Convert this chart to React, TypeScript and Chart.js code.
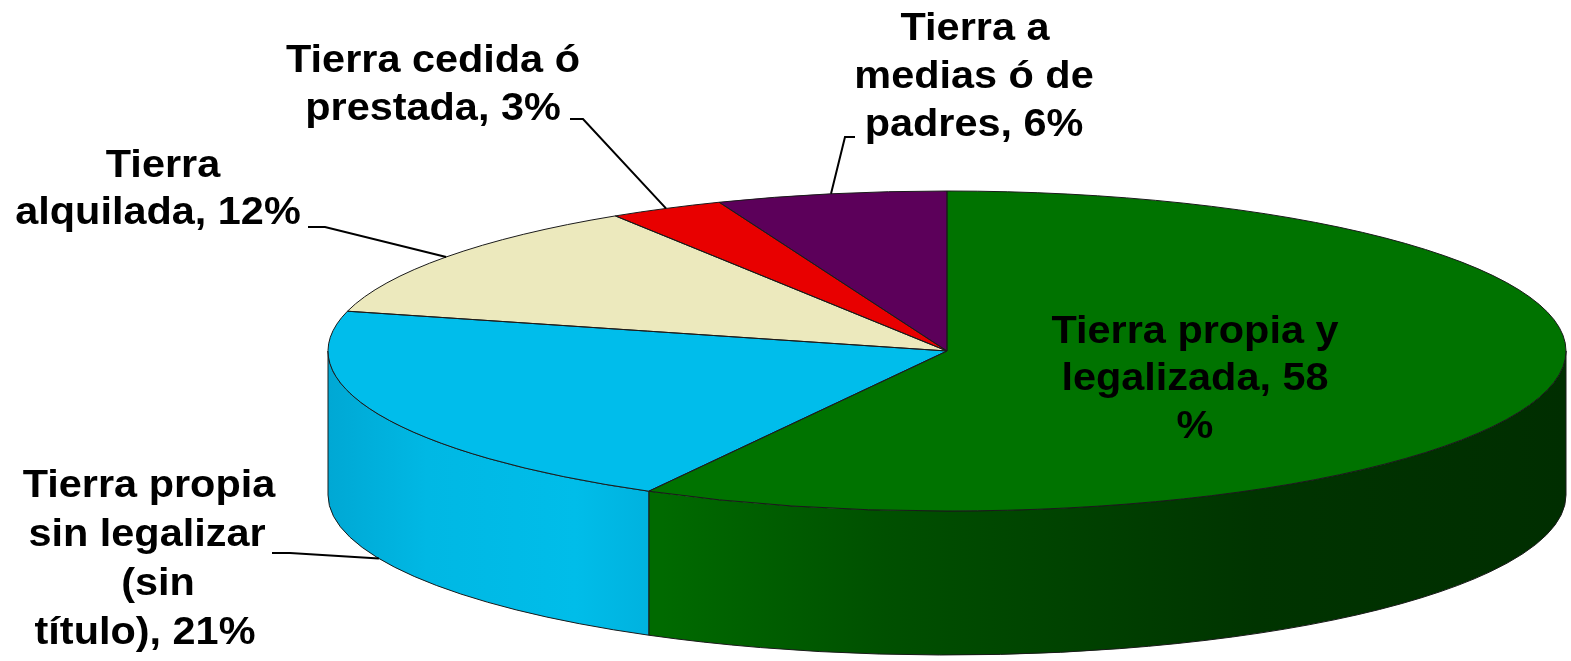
import React, { useEffect, useRef } from "react";
import { Chart, registerables } from "chart.js";

Chart.register(...registerables);

// ---- data ----
const categories = [
  "Tierra propia y legalizada",
  "Tierra propia sin legalizar (sin título)",
  "Tierra alquilada",
  "Tierra cedida ó prestada",
  "Tierra a medias ó de padres",
];
const values = [58, 21, 12, 3, 6];
const labelLines = [
  ["Tierra propia y", "legalizada, 58", "%"],
  ["Tierra propia", "sin legalizar", "(sin", "título), 21%"],
  ["Tierra", "alquilada, 12%"],
  ["Tierra cedida ó", "prestada, 3%"],
  ["Tierra a", "medias ó de", "padres, 6%"],
];

// ---- styles / layout ----
const topColors = ["#007300", "#00bdeb", "#ece9bd", "#e80000", "#5c005a"];
const sideStops: [number, string][][] = [
  [[0.27, "#006a00"], [0.45, "#005000"], [0.75, "#003400"], [1, "#002e00"]],
  [[0, "#00a8d4"], [0.08, "#00b8e4"], [0.2, "#00bde9"], [0.27, "#00b0dd"]],
  [[0, "#c8c59e"], [1, "#c8c59e"]],
  [[0, "#b00000"], [1, "#b00000"]],
  [[0, "#400040"], [1, "#400040"]],
];
const CX = 947, CY = 351, RX = 619, RY = 160, DEPTH = 144;
// label line anchors [x, baseline]
const labelPos: [number, number][][] = [
  [[1195, 343], [1195, 390], [1195, 438]],
  [[149, 497], [147, 546], [158, 595], [145, 644]],
  [[163, 177], [158, 224]],
  [[433, 72], [433, 120]],
  [[975, 40], [974, 88], [974, 136]],
];
// leader start (text end) [x,y] and elbow x; null = no leader
const leaders: ([number, number, number] | null)[] = [
  null,
  [272, 553, 290],
  [308, 227, 325],
  [570, 119, 583],
  [855, 137, 845],
];
const leaderOnSide = [false, true, false, false, false];

function visibleSegs(s: number, e: number): [number, number][] {
  const out: [number, number][] = [];
  for (const k of [-2, 0, 2]) {
    const lo = k * Math.PI, hi = k * Math.PI + Math.PI;
    const a = Math.max(s, lo), b = Math.min(e, hi);
    if (b > a) out.push([a, b]);
  }
  return out;
}

const pie3d = {
  id: "pie3d",
  beforeDatasetsDraw(chart: any) {
    const ctx = chart.ctx as CanvasRenderingContext2D;
    const arcs = chart.getDatasetMeta(0).data;
    ctx.save();
    ctx.lineWidth = 1;
    ctx.strokeStyle = "#1a1a1a";
    arcs.forEach((arc: any, i: number) => {
      const { startAngle, endAngle } = arc.getProps(["startAngle", "endAngle"], true);
      visibleSegs(startAngle, endAngle).forEach(([a, b]) => {
        const g = ctx.createLinearGradient(CX - RX, 0, CX + RX, 0);
        sideStops[i].forEach(([o, c]) => g.addColorStop(o, c));
        ctx.beginPath();
        ctx.ellipse(CX, CY, RX, RY, 0, a, b);
        ctx.lineTo(CX + RX * Math.cos(b), CY + DEPTH + RY * Math.sin(b));
        ctx.ellipse(CX, CY + DEPTH, RX, RY, 0, b, a, true);
        ctx.closePath();
        ctx.fillStyle = g;
        ctx.fill();
        ctx.stroke();
      });
    });
    ctx.restore();
    const a0 = arcs[0];
    const R = a0.outerRadius;
    ctx.save();
    ctx.translate(CX, CY);
    ctx.scale(RX / R, RY / R);
    ctx.translate(-a0.x, -a0.y);
  },
  afterDatasetsDraw(chart: any) {
    const ctx = chart.ctx as CanvasRenderingContext2D;
    ctx.restore();
    const arcs = chart.getDatasetMeta(0).data;
    // outlines of top face
    ctx.save();
    ctx.lineWidth = 1;
    ctx.strokeStyle = "#1a1a1a";
    arcs.forEach((arc: any) => {
      const { startAngle, endAngle } = arc.getProps(["startAngle", "endAngle"], true);
      ctx.beginPath();
      ctx.moveTo(CX, CY);
      ctx.ellipse(CX, CY, RX, RY, 0, startAngle, endAngle);
      ctx.closePath();
      ctx.stroke();
    });
    ctx.restore();
    // leaders
    ctx.save();
    ctx.lineWidth = 2;
    ctx.strokeStyle = "#000";
    arcs.forEach((arc: any, i: number) => {
      const L = leaders[i];
      if (!L) return;
      const { startAngle, endAngle } = arc.getProps(["startAngle", "endAngle"], true);
      const m = (startAngle + endAngle) / 2;
      const px = CX + RX * Math.cos(m);
      const py = CY + RY * Math.sin(m) + (leaderOnSide[i] ? DEPTH : 0);
      ctx.beginPath();
      ctx.moveTo(L[0], L[1]);
      ctx.lineTo(L[2], L[1]);
      ctx.lineTo(px, py);
      ctx.stroke();
    });
    ctx.restore();
    // labels
    ctx.save();
    ctx.fillStyle = "#000";
    ctx.font = "bold 38px 'Liberation Sans', Arial, sans-serif";
    ctx.textAlign = "center";
    ctx.textBaseline = "alphabetic";
    labelLines.forEach((lines, i) => {
      lines.forEach((t, j) => {
        const [x, y] = labelPos[i][j];
        ctx.save();
        ctx.translate(x, y);
        ctx.scale(1.09, 1);
        ctx.fillText(t, 0, 0);
        ctx.restore();
      });
    });
    ctx.restore();
  },
};

export default function App() {
  const ref = useRef<HTMLCanvasElement | null>(null);
  useEffect(() => {
    if (!ref.current) return;
    const chart = new Chart(ref.current, {
      type: "pie",
      data: {
        labels: categories,
        datasets: [
          {
            data: values,
            backgroundColor: topColors,
            borderWidth: 0,
          },
        ],
      },
      options: {
        animation: false,
        responsive: false,
        devicePixelRatio: 1,
        events: [],
        layout: { padding: 0 },
        plugins: { legend: { display: false }, tooltip: { enabled: false } },
      },
      plugins: [pie3d],
    });
    return () => chart.destroy();
  }, []);
  return (
    <div style={{ position: "fixed", left: 0, top: 0, width: 1571, height: 661, background: "#fff" }}>
      <canvas ref={ref} width={1571} height={661} style={{ display: "block" }} />
    </div>
  );
}
